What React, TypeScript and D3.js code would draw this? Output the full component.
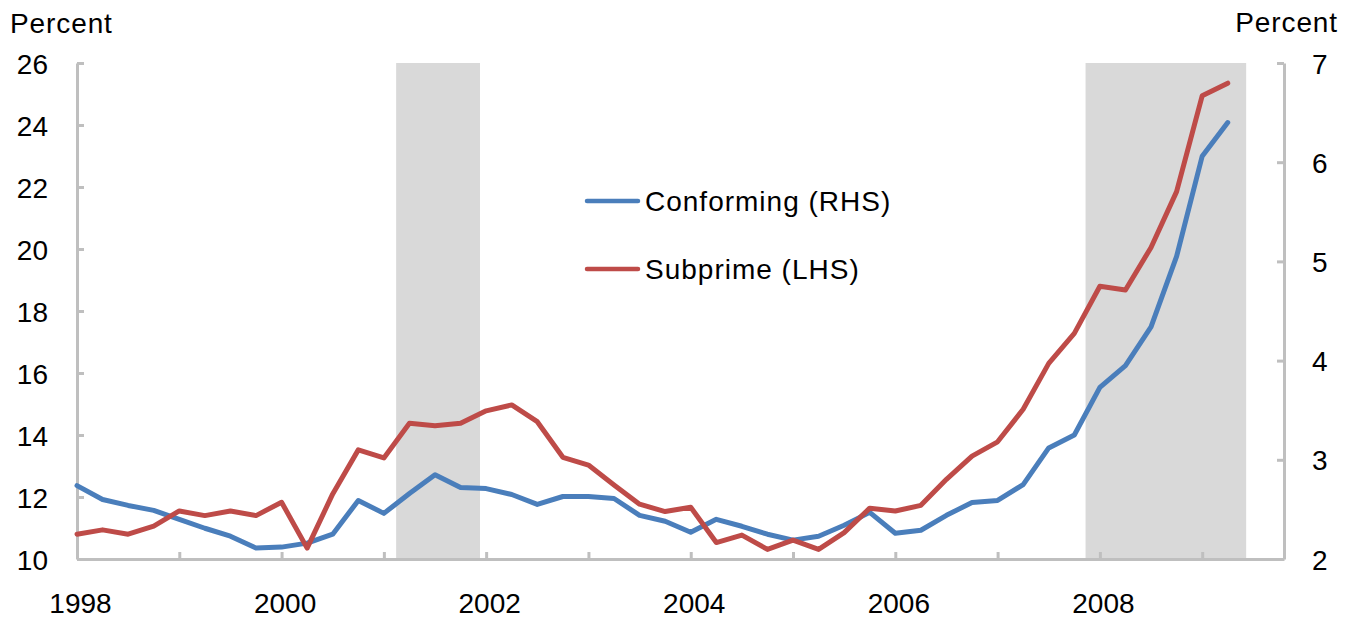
import React, { useEffect, useRef } from "react";
import * as d3 from "d3";

// quarterly observations, 1998Q1 - 2009Q2
const quarters = [
  "1998Q1", "1998Q2", "1998Q3", "1998Q4",
  "1999Q1", "1999Q2", "1999Q3", "1999Q4",
  "2000Q1", "2000Q2", "2000Q3", "2000Q4",
  "2001Q1", "2001Q2", "2001Q3", "2001Q4",
  "2002Q1", "2002Q2", "2002Q3", "2002Q4",
  "2003Q1", "2003Q2", "2003Q3", "2003Q4",
  "2004Q1", "2004Q2", "2004Q3", "2004Q4",
  "2005Q1", "2005Q2", "2005Q3", "2005Q4",
  "2006Q1", "2006Q2", "2006Q3", "2006Q4",
  "2007Q1", "2007Q2", "2007Q3", "2007Q4",
  "2008Q1", "2008Q2", "2008Q3", "2008Q4",
  "2009Q1", "2009Q2",
];

// Conforming, right-hand scale (percent)
const conforming = [
  2.74, 2.6, 2.54, 2.49,
  2.4, 2.31, 2.23, 2.11,
  2.12, 2.16, 2.25, 2.59,
  2.46, 2.66, 2.85, 2.72,
  2.71, 2.65, 2.55, 2.63,
  2.63, 2.61, 2.44, 2.38,
  2.27, 2.4, 2.33, 2.25,
  2.19, 2.23, 2.34, 2.47,
  2.26, 2.29, 2.44, 2.57,
  2.59, 2.75, 3.12, 3.25,
  3.73, 3.95, 4.34, 5.05,
  6.06, 6.4,
];

// Subprime, left-hand scale (percent)
const subprime = [
  10.8, 10.94, 10.8, 11.06,
  11.55, 11.4, 11.55, 11.4,
  11.83, 10.35, 12.1, 13.52,
  13.26, 14.38, 14.3, 14.38,
  14.78, 14.97, 14.43, 13.28,
  13.03, 12.39, 11.77, 11.53,
  11.67, 10.53, 10.77, 10.31,
  10.61, 10.31, 10.85, 11.64,
  11.55, 11.73, 12.57, 13.32,
  13.78, 14.83, 16.31, 17.28,
  18.8, 18.68, 20.05, 21.85,
  24.94, 25.35,
];

const leftTicks = [10, 12, 14, 16, 18, 20, 22, 24, 26];
const rightTicks = [2, 3, 4, 5, 6, 7];
const yearTicks = [1998, 1999, 2000, 2001, 2002, 2003, 2004, 2005, 2006, 2007, 2008, 2009];

// recession bands (decimal years)
const recessionStart = [2001.12, 2007.86];
const recessionEnd = [2001.94, 2009.43];

const seriesNames = ["Conforming (RHS)", "Subprime (LHS)"];
const seriesColors = ["#4a7ebb", "#be4b48"];

const W = 1354;
const H = 621;
const FONT = "'Liberation Sans', Arial, sans-serif";
const AXIS_GREY = "#bfbfbf";

function quarterToYear(q: string) {
  const [y, n] = q.split("Q");
  return +y + (+n - 1) / 4;
}

export default function App() {
  const ref = useRef<SVGSVGElement>(null);

  useEffect(() => {
    const svg = d3.select(ref.current);
    svg.selectAll("*").remove();

    const plotLeft = 77, plotRight = 1284, plotTop = 63, plotBottom = 559;

    const x = d3.scaleLinear().domain([1998, 2009.8]).range([plotLeft, plotRight]);
    const yLeft = d3.scaleLinear().domain([10, 26]).range([plotBottom, plotTop]);
    const yRight = d3.scaleLinear().domain([2, 7]).range([plotBottom, plotTop]);

    // recession shading
    svg.append("g")
      .selectAll("rect")
      .data(recessionStart)
      .join("rect")
      .attr("x", d => x(d))
      .attr("width", (d, i) => x(recessionEnd[i]) - x(d))
      .attr("y", plotTop)
      .attr("height", plotBottom - plotTop)
      .attr("fill", "#d9d9d9");

    // axes
    const styleAxis = (g: any) => {
      g.select(".domain").attr("stroke", AXIS_GREY).attr("stroke-width", 3);
      g.selectAll(".tick line").attr("stroke", AXIS_GREY).attr("stroke-width", 3);
      g.selectAll(".tick text")
        .attr("fill", "#000")
        .style("font-family", FONT)
        .style("font-size", "28px");
    };

    svg.append("g")
      .attr("transform", `translate(0,${plotBottom})`)
      .call(d3.axisBottom(x).tickValues(yearTicks).tickSize(-7).tickSizeOuter(0)
        .tickFormat((d: any) => (d % 2 === 0 ? String(d) : "")))
      .call(styleAxis)
      .call((g: any) => g.selectAll(".tick text").attr("y", 54).attr("dy", 0).attr("dx", 3));

    svg.append("g")
      .attr("transform", `translate(${plotLeft},0)`)
      .call(d3.axisLeft(yLeft).tickValues(leftTicks).tickSize(-7).tickSizeOuter(0)
        .tickFormat(d3.format("d")))
      .call(styleAxis)
      .call((g: any) => g.selectAll(".tick text").attr("x", -29).attr("dy", "0.36em"));

    svg.append("g")
      .attr("transform", `translate(${plotRight},0)`)
      .call(d3.axisRight(yRight).tickValues(rightTicks).tickSize(-7).tickSizeOuter(0)
        .tickFormat(d3.format("d")))
      .call(styleAxis)
      .call((g: any) => g.selectAll(".tick text").attr("x", 28).attr("dy", "0.36em"));

    // axis titles
    const titles = svg.append("g")
      .style("font-family", FONT)
      .style("font-size", "28px")
      .style("letter-spacing", "0.9px");
    titles.append("text").attr("x", 10).attr("y", 33).text("Percent");
    titles.append("text").attr("x", 1338).attr("y", 32).attr("text-anchor", "end").text("Percent");

    // series lines
    const lineRight = d3.line<number>()
      .x((d, i) => x(quarterToYear(quarters[i])))
      .y(d => yRight(d));
    const lineLeft = d3.line<number>()
      .x((d, i) => x(quarterToYear(quarters[i])))
      .y(d => yLeft(d));

    svg.append("path")
      .attr("d", lineRight(conforming))
      .attr("fill", "none")
      .attr("stroke", seriesColors[0])
      .attr("stroke-width", 5)
      .attr("stroke-linejoin", "round")
      .attr("stroke-linecap", "round");

    svg.append("path")
      .attr("d", lineLeft(subprime))
      .attr("fill", "none")
      .attr("stroke", seriesColors[1])
      .attr("stroke-width", 5)
      .attr("stroke-linejoin", "round")
      .attr("stroke-linecap", "round");

    // legend
    const legend = svg.append("g")
      .selectAll("g")
      .data(seriesNames)
      .join("g")
      .attr("transform", (d, i) => `translate(587,${201 + i * 68})`);
    legend.append("line")
      .attr("x1", 0).attr("x2", 51)
      .attr("stroke", (d, i) => seriesColors[i])
      .attr("stroke-width", 4.5)
      .attr("stroke-linecap", "round");
    legend.append("text")
      .attr("x", 58)
      .attr("dy", "0.36em")
      .style("font-family", FONT)
      .style("font-size", "28px")
      .style("letter-spacing", "1px")
      .text(d => d);
  }, []);

  return (
    <svg
      ref={ref}
      width={W}
      height={H}
      style={{ position: "absolute", left: 0, top: 0, background: "#fff" }}
    />
  );
}
